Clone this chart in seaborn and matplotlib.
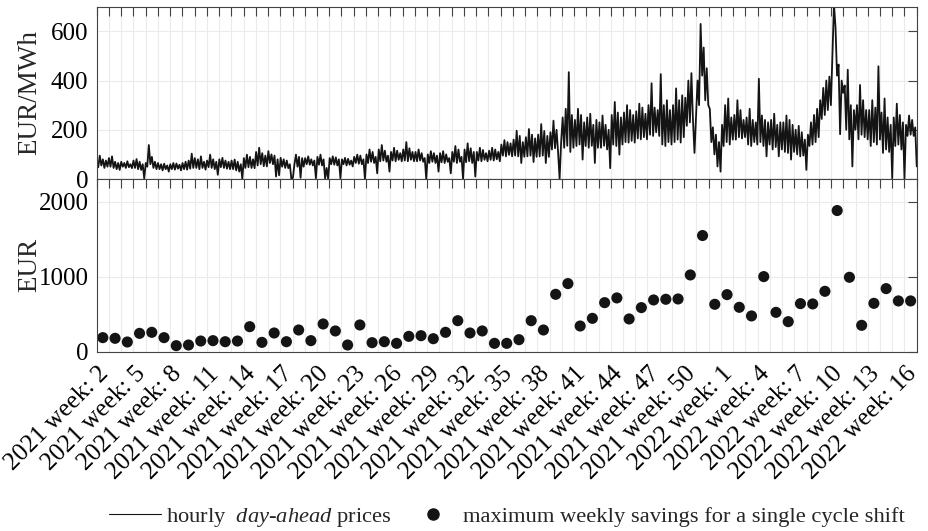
import numpy as np
import pandas as pd
import matplotlib
matplotlib.use("Agg")
import matplotlib.pyplot as plt
import matplotlib.transforms as mtransforms
import seaborn as sns
from matplotlib.lines import Line2D

# Hourly day-ahead prices (EUR/MWh), read off the chart as alternating
# high/low points, 8 per week, 2021 week 1 .. 2022 week 15
price_weeks = [
    [70, 48, 95, 55, 80, 45, 75, 50],
    [85, 50, 92, 45, 70, 40, 65, 37],
    [70, 50, 65, 45, 72, 48, 60, 44],
    [75, 45, 81, 40, 70, 37, 60, 2],
    [65, 50, 138, 60, 90, 45, 70, 40],
    [65, 40, 60, 35, 62, 40, 55, 30],
    [60, 40, 65, 38, 63, 42, 58, 35],
    [65, 40, 70, 38, 75, 42, 103, 45],
    [85, 45, 80, 40, 92, 45, 70, 38],
    [75, 48, 99, 45, 80, 40, 70, 17],
    [80, 48, 86, 45, 75, 42, 70, 40],
    [75, 40, 79, 35, 70, 30, 60, 0],
    [85, 45, 99, 48, 90, 45, 80, 44],
    [110, 55, 127, 60, 105, 52, 95, 51],
    [113, 65, 100, 60, 95, 10, 80, 15],
    [86, 50, 80, 45, 75, 44, 60, 0],
    [5, 60, 99, 50, 90, 5, 85, 50],
    [85, 60, 92, 58, 80, 55, 75, 3],
    [90, 58, 99, 55, 80, 2, 45, 0],
    [85, 60, 92, 58, 88, 55, 80, 3],
    [80, 60, 86, 55, 82, 58, 75, 51],
    [90, 65, 99, 62, 95, 60, 80, 0],
    [100, 65, 120, 70, 110, 65, 90, 23],
    [120, 72, 138, 75, 115, 70, 95, 30],
    [110, 75, 127, 72, 115, 78, 105, 72],
    [120, 75, 150, 72, 125, 78, 110, 72],
    [110, 72, 120, 75, 105, 70, 85, 0],
    [100, 65, 113, 70, 105, 65, 95, 30],
    [105, 68, 113, 65, 100, 70, 85, 23],
    [110, 70, 134, 65, 120, 70, 90, 0],
    [120, 68, 145, 72, 125, 65, 110, 10],
    [110, 75, 127, 72, 118, 78, 105, 72],
    [115, 78, 127, 75, 120, 80, 110, 72],
    [140, 95, 158, 92, 150, 98, 145, 92],
    [160, 95, 196, 92, 175, 65, 150, 90],
    [170, 92, 203, 95, 180, 69, 165, 90],
    [180, 92, 223, 95, 195, 65, 175, 90],
    [190, 120, 237, 125, 200, 110, 0, 150],
    [250, 127, 285, 135, 434, 110, 260, 127],
    [240, 134, 285, 140, 260, 79, 230, 134],
    [250, 127, 265, 135, 220, 65, 240, 127],
    [230, 127, 258, 135, 220, 120, 200, 44],
    [260, 140, 313, 134, 270, 99, 250, 140],
    [270, 150, 300, 148, 280, 155, 260, 148],
    [275, 165, 306, 161, 290, 170, 265, 161],
    [300, 180, 389, 175, 290, 190, 280, 175],
    [426, 140, 300, 134, 320, 150, 280, 140],
    [300, 150, 368, 160, 320, 148, 340, 170],
    [330, 216, 400, 230, 430, 240, 106, 250],
    [400, 300, 630, 420, 534, 320, 450, 300],
    [285, 150, 210, 100, 180, 51, 150, 30],
    [220, 134, 300, 150, 327, 140, 250, 160],
    [260, 160, 320, 170, 280, 165, 240, 170],
    [250, 140, 285, 134, 240, 150, 230, 140],
    [407, 150, 258, 134, 240, 92, 230, 140],
    [240, 120, 265, 130, 220, 92, 230, 120],
    [230, 110, 258, 106, 240, 79, 220, 110],
    [200, 100, 216, 92, 190, 95, 160, 37],
    [180, 134, 230, 140, 260, 150, 285, 170],
    [320, 244, 370, 260, 400, 280, 416, 300],
    [500, 710, 616, 420, 465, 182, 400, 350],
    [380, 200, 444, 161, 300, 51, 280, 200],
    [300, 161, 382, 180, 320, 170, 280, 161],
    [280, 134, 320, 150, 290, 140, 458, 160],
    [270, 106, 327, 120, 250, 110, 220, 3],
    [250, 134, 306, 140, 260, 120, 230, 0],
    [220, 175, 258, 180, 240, 175, 210, 51],
]

# Maximum weekly savings for a single cycle shift (EUR), one per week
savings = [187, 178, 129, 244, 258, 187, 80, 89, 142, 147, 133, 142, 333, 124,
           249, 133, 289, 147, 369, 276, 89, 356, 120, 133, 111, 204, 213, 173,
           258, 413, 249, 276, 111, 111, 160, 413, 289, 764, 907, 342, 444, 653,
           716, 436, 587, 689, 698, 702, 1022, 1547, 631, 760, 591, 476, 1000,
           524, 400, 640, 636, 804, 1880, 991, 351, 644, 840, 676, 676]

tick_years = [2021] * 17 + [2022] * 6
tick_weeks = [2, 5, 8, 11, 14, 17, 20, 23, 26, 29, 32, 35, 38, 41, 44, 47, 50,
              1, 4, 7, 10, 13, 16]
tick_labels = [f"{y} week: {w}" for y, w in zip(tick_years, tick_weeks)]

n_weeks = len(price_weeks)
prices = [v for wk in price_weeks for v in wk]
df_price = pd.DataFrame({"week": np.linspace(0, n_weeks, len(prices)), "price": prices})
df_sav = pd.DataFrame({"week": np.arange(len(savings)) + 0.5, "eur": savings})

sns.set_theme(style="white")
plt.rcParams["font.family"] = ["Liberation Serif", "DejaVu Serif"]
plt.rcParams["mathtext.fontset"] = "custom"
plt.rcParams["mathtext.rm"] = "Liberation Serif"
plt.rcParams["mathtext.it"] = "Liberation Serif:italic"

ink = "#141414"
axc = "#444444"
gridc = "#ebebeb"

fig = plt.figure(figsize=(9.29, 5.31), dpi=100)
ax1 = fig.add_axes([0.1041, 0.6629, 0.8827, 0.3245])
ax2 = fig.add_axes([0.1041, 0.3377, 0.8827, 0.3252], sharex=ax1)

sns.lineplot(data=df_price, x="week", y="price", ax=ax1, color=ink, lw=1.3,
             estimator=None, sort=False, legend=False)
sns.scatterplot(data=df_sav, x="week", y="eur", ax=ax2, color=ink, s=64,
                edgecolor="none", legend=False)

ax1.set_xlim(0, n_weeks)
ax1.set_ylim(0, 700)
ax2.set_ylim(0, 2300)
ax1.set_yticks([0, 200, 400, 600])
ax2.set_yticks([0, 1000, 2000])

tick_pos = [1 + 3 * i for i in range(len(tick_labels))]
ax2.set_xticks(range(0, n_weeks + 1))
lab_map = dict(zip(tick_pos, tick_labels))
ax2.set_xticklabels([lab_map.get(i, "") for i in range(0, n_weeks + 1)],
                    rotation=45, ha="right", rotation_mode="default")

for ax in (ax1, ax2):
    ax.grid(True, axis="both", color=gridc, lw=0.8)
    ax.set_axisbelow(True)
    ax.tick_params(axis="both", direction="in", length=6.5, width=0.8,
                   color=axc, top=True, right=True, labelsize=18,
                   labelcolor="black")
    ax.tick_params(axis="y", pad=6)
    for s in ax.spines.values():
        s.set_color(axc)
        s.set_linewidth(0.8)
    ax.set_xlabel("")
ax1.tick_params(axis="x", labelbottom=False)
ax2.tick_params(axis="x", pad=8, labelsize=18.2)

shift = mtransforms.ScaledTranslation(4 / 100, 0, fig.dpi_scale_trans)
for lab in ax2.get_xticklabels():
    lab.set_transform(lab.get_transform() + shift)

ax1.set_ylabel("EUR/MWh", fontsize=19.5)
ax2.set_ylabel("EUR", fontsize=19.5)
ax1.yaxis.set_label_coords(-0.066, 0.5)
ax2.yaxis.set_label_coords(-0.066, 0.5)

handles = [Line2D([], [], color=ink, lw=0.8),
           Line2D([], [], marker="o", ls="none", color=ink, markersize=8)]
labels = [r"hourly  $\mathit{day}$-$\mathit{ahead}$ prices",
          "maximum weekly savings for a single cycle shift"]
fig.legend(handles, labels, loc="center", bbox_to_anchor=(0.546, 0.026),
           ncol=2, frameon=False, fontsize=16.2, handlelength=2.3,
           columnspacing=0.7, handletextpad=0.2)

fig.savefig("out.png", dpi=100)
